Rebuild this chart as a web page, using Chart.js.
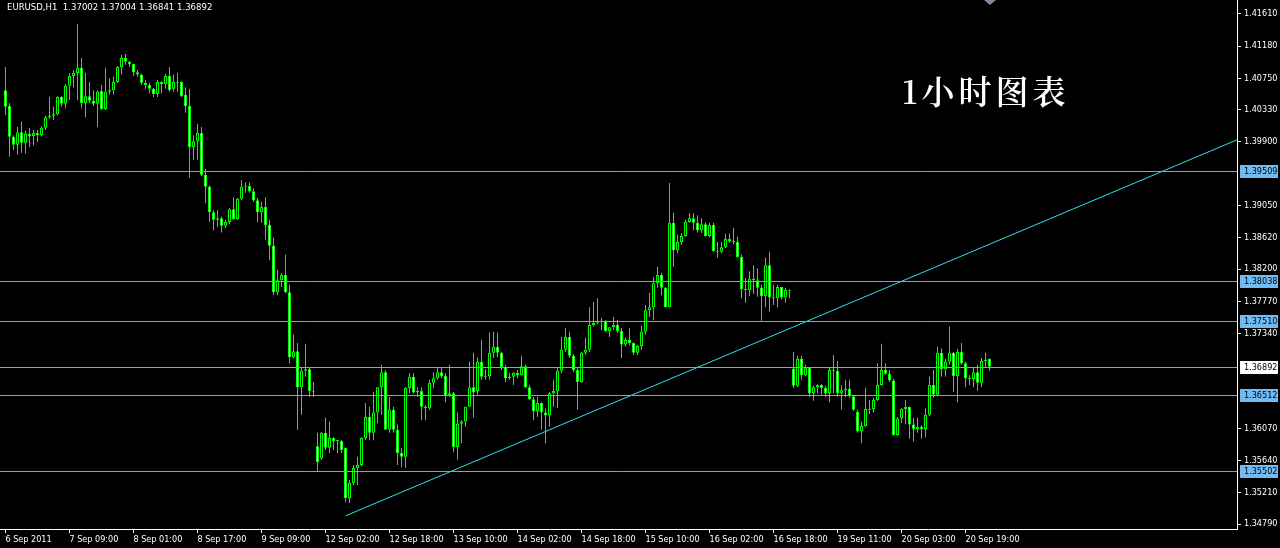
<!DOCTYPE html>
<html>
<head>
<meta charset="utf-8">
<title>EURUSD H1</title>
<script src="https://cdn.jsdelivr.net/npm/chart.js@4.4.0/dist/chart.umd.min.js"></script>
<style>
  html, body { margin: 0; padding: 0; background: #000; }
  #wrap { position: relative; width: 1280px; height: 548px; background: #000; overflow: hidden; }
  #wrap canvas { position: absolute; left: 0; top: 0; }
  .info { position: absolute; left: 7px; top: 1px; color: #fff; white-space: pre;
          font: 9.5px 'DejaVu Sans Condensed', 'Liberation Sans', sans-serif; }
  .note { position: absolute; left: 902px; top: 66px; color: #fff; font-weight: 600;
          font-size: 33px; font-family: 'Noto Serif CJK SC', 'Noto Sans CJK SC', serif; letter-spacing: 4px; }
</style>
</head>
<body>
<div id="wrap">
  <canvas id="chart" width="1280" height="548"></canvas>
  <div class="info" id="info"></div>
  <div class="note" id="note"></div>
</div>
<script>
// EURUSD H1 candles, 6 Sep 17:00 .. 21 Sep 2011
const opens = [
  1.4059,1.4038,1.3997,1.3986,1.4003,1.3989,1.4001,1.3998,1.4002,1.3999,
  1.4009,1.4023,1.4025,1.4027,1.4050,1.4041,1.4065,1.4078,1.4082,1.4089,
  1.4042,1.4051,1.4045,1.4041,1.4058,1.4034,1.4057,1.4059,1.4070,1.4090,
  1.4102,1.4097,1.4094,1.4083,1.4080,1.4069,1.4066,1.4061,1.4054,1.4070,
  1.4067,1.4078,1.4061,1.4070,1.4070,1.4053,1.4038,1.3983,1.3991,1.4002,
  1.3946,1.3930,1.3896,1.3886,1.3888,1.3878,1.3883,1.3900,1.3887,1.3914,
  1.3930,1.3931,1.3924,1.3912,1.3896,1.3903,1.3879,1.3851,1.3789,1.3805,
  1.3812,1.3789,1.3702,1.3710,1.3662,1.3684,1.3686,1.3657,1.3583,1.3567,
  1.3601,1.3581,1.3594,1.3590,1.3590,1.3581,1.3514,1.3534,1.3554,1.3558,
  1.3594,1.3622,1.3601,1.3628,1.3662,1.3682,1.3605,1.3632,1.3605,1.3574,
  1.3569,1.3661,1.3676,1.3655,1.3657,1.3636,1.3634,1.3668,1.3674,1.3682,
  1.3677,1.3651,1.3654,1.3582,1.3613,1.3616,1.3636,1.3662,1.3657,1.3696,
  1.3676,1.3677,1.3708,1.3716,1.3708,1.3689,1.3674,1.3676,1.3681,1.3678,
  1.3690,1.3662,1.3646,1.3630,1.3641,1.3628,1.3624,1.3654,1.3657,1.3684,
  1.3712,1.3729,1.3704,1.3685,1.3669,1.3708,1.3712,1.3745,1.3748,1.3749,
  1.3751,1.3737,1.3742,1.3745,1.3737,1.3719,1.3725,1.3721,1.3708,1.3717,
  1.3736,1.3765,1.3769,1.3801,1.3812,1.3795,1.3769,1.3882,1.3845,1.3856,
  1.3864,1.3883,1.3888,1.3882,1.3872,1.3880,1.3864,1.3879,1.3844,1.3843,
  1.3849,1.3860,1.3857,1.3856,1.3836,1.3793,1.3792,1.3807,1.3805,1.3795,
  1.3784,1.3825,1.3782,1.3781,1.3796,1.3782,1.3792,1.3687,1.3664,1.3700,
  1.3678,1.3688,1.3654,1.3662,1.3665,1.3661,1.3654,1.3685,1.3684,1.3654,
  1.3658,1.3660,1.3650,1.3629,1.3603,1.3610,1.3633,1.3633,1.3645,1.3665,
  1.3685,1.3680,1.3671,1.3598,1.3620,1.3633,1.3636,1.3612,1.3606,1.3609,
  1.3606,1.3625,1.3665,1.3652,1.3708,1.3686,1.3696,1.3708,1.3677,1.3709,
  1.3694,1.3674,1.3673,1.3682,1.3668,1.3697,1.37002
];
const highs = [
  1.4090,1.4042,1.3999,1.4010,1.4017,1.4005,1.4009,1.4006,1.4006,1.4011,
  1.4025,1.4050,1.4037,1.4051,1.4051,1.4067,1.4082,1.4086,1.4148,1.4102,
  1.4082,1.4070,1.4059,1.4059,1.4066,1.4089,1.4075,1.4077,1.4091,1.4106,
  1.4108,1.4098,1.4094,1.4086,1.4081,1.4073,1.4069,1.4062,1.4073,1.4071,
  1.4081,1.4090,1.4080,1.4082,1.4071,1.4063,1.4061,1.3999,1.4014,1.4010,
  1.3954,1.3932,1.3899,1.3899,1.3890,1.3886,1.3902,1.3916,1.3915,1.3939,
  1.3936,1.3936,1.3928,1.3915,1.3910,1.3916,1.3886,1.3862,1.3819,1.3815,
  1.3839,1.3799,1.3732,1.3721,1.3688,1.3720,1.3688,1.3669,1.3601,1.3602,
  1.3621,1.3616,1.3595,1.3591,1.3591,1.3581,1.3538,1.3558,1.3569,1.3595,
  1.3641,1.3636,1.3656,1.3662,1.3692,1.3685,1.3649,1.3636,1.3612,1.3581,
  1.3662,1.3681,1.3681,1.3662,1.3662,1.3638,1.3672,1.3682,1.3688,1.3688,
  1.3681,1.3692,1.3656,1.3628,1.3618,1.3636,1.3696,1.3708,1.3702,1.3725,
  1.3686,1.3735,1.3736,1.3735,1.3709,1.3692,1.3681,1.3682,1.3685,1.3704,
  1.3692,1.3665,1.3649,1.3649,1.3642,1.3634,1.3656,1.3672,1.3688,1.3729,
  1.3741,1.3736,1.3706,1.3689,1.3709,1.3728,1.3769,1.3776,1.3781,1.3755,
  1.3752,1.3742,1.3756,1.3752,1.3741,1.3728,1.3741,1.3722,1.3718,1.3744,
  1.3772,1.3788,1.3809,1.3823,1.3815,1.3796,1.3935,1.3895,1.3866,1.3868,
  1.3886,1.3895,1.3895,1.3892,1.3888,1.3883,1.3882,1.3882,1.3856,1.3856,
  1.3867,1.3867,1.3875,1.3863,1.3839,1.3808,1.3817,1.3825,1.3821,1.3799,
  1.3835,1.3843,1.3799,1.3799,1.3796,1.3795,1.3793,1.3709,1.3704,1.3704,
  1.3692,1.3689,1.3664,1.3666,1.3666,1.3664,1.3688,1.3705,1.3697,1.3665,
  1.3672,1.3672,1.3650,1.3632,1.3616,1.3661,1.3645,1.3648,1.3694,1.3720,
  1.3694,1.3685,1.3673,1.3622,1.3634,1.3645,1.3636,1.3621,1.3621,1.3611,
  1.3634,1.3676,1.3685,1.3716,1.3714,1.3700,1.3743,1.3709,1.3713,1.3721,
  1.3696,1.3678,1.3689,1.3692,1.3701,1.3708,1.37004
];
const lows = [
  1.4026,1.3970,1.3979,1.3973,1.3975,1.3974,1.3983,1.3985,1.3990,1.3997,
  1.4006,1.4021,1.4019,1.4026,1.4037,1.4035,1.4046,1.4063,1.4046,1.4035,
  1.4023,1.4042,1.4038,1.4010,1.4033,1.4033,1.4053,1.4053,1.4069,1.4080,
  1.4093,1.4090,1.4078,1.4077,1.4066,1.4061,1.4055,1.4050,1.4050,1.4055,
  1.4061,1.4057,1.4057,1.4057,1.4050,1.4029,1.3942,1.3966,1.3966,1.3944,
  1.3908,1.3883,1.3872,1.3876,1.3869,1.3875,1.3880,1.3886,1.3886,1.3912,
  1.3922,1.3922,1.3910,1.3883,1.3882,1.3859,1.3832,1.3785,1.3785,1.3796,
  1.3788,1.3694,1.3701,1.3605,1.3625,1.3676,1.3649,1.3649,1.3549,1.3565,
  1.3578,1.3574,1.3578,1.3574,1.3574,1.3508,1.3507,1.3531,1.3531,1.3556,
  1.3591,1.3591,1.3591,1.3614,1.3625,1.3605,1.3601,1.3601,1.3558,1.3555,
  1.3554,1.3654,1.3654,1.3649,1.3618,1.3618,1.3632,1.3661,1.3672,1.3674,
  1.3642,1.3649,1.3575,1.3565,1.3587,1.3609,1.3636,1.3621,1.3652,1.3672,
  1.3672,1.3672,1.3701,1.3702,1.3685,1.3669,1.3672,1.3665,1.3674,1.3678,
  1.3661,1.3645,1.3618,1.3622,1.3605,1.3587,1.3609,1.3636,1.3634,1.3681,
  1.3709,1.3701,1.3682,1.3632,1.3668,1.3705,1.3709,1.3743,1.3746,1.3738,
  1.3736,1.3729,1.3738,1.3734,1.3701,1.3716,1.3718,1.3705,1.3705,1.3712,
  1.3732,1.3756,1.3752,1.3795,1.3785,1.3769,1.3769,1.3823,1.3841,1.3852,
  1.3863,1.3882,1.3872,1.3869,1.3868,1.3863,1.3862,1.3843,1.3835,1.3841,
  1.3848,1.3855,1.3853,1.3835,1.3781,1.3775,1.3784,1.3787,1.3783,1.3751,
  1.3769,1.3763,1.3772,1.3769,1.3779,1.3775,1.3781,1.3661,1.3662,1.3672,
  1.3677,1.3649,1.3644,1.3654,1.3652,1.3649,1.3642,1.3654,1.3649,1.3632,
  1.3649,1.3648,1.3630,1.3601,1.3587,1.3609,1.3626,1.3628,1.3644,1.3664,
  1.3679,1.3669,1.3597,1.3597,1.3614,1.3612,1.3593,1.3589,1.3601,1.3593,
  1.3595,1.3623,1.3648,1.3650,1.3676,1.3676,1.3692,1.3656,1.3642,1.3692,
  1.3662,1.3665,1.3662,1.3657,1.3662,1.3689,1.36841
];
const closes = [
  1.4037,1.3997,1.3986,1.4003,1.3989,1.4001,1.3998,1.4002,1.3999,1.4009,
  1.4023,1.4025,1.4027,1.4050,1.4041,1.4065,1.4078,1.4082,1.4089,1.4042,
  1.4051,1.4045,1.4041,1.4057,1.4034,1.4057,1.4059,1.4070,1.4090,1.4102,
  1.4097,1.4094,1.4083,1.4080,1.4069,1.4066,1.4061,1.4054,1.4070,1.4067,
  1.4078,1.4059,1.4070,1.4069,1.4051,1.4038,1.3983,1.3991,1.4002,1.3946,
  1.3930,1.3896,1.3886,1.3888,1.3878,1.3883,1.3900,1.3887,1.3914,1.3930,
  1.3931,1.3924,1.3912,1.3896,1.3903,1.3879,1.3851,1.3789,1.3805,1.3812,
  1.3789,1.3702,1.3710,1.3662,1.3684,1.3686,1.3657,1.3656,1.3562,1.3601,
  1.3581,1.3594,1.3590,1.3591,1.3578,1.3514,1.3534,1.3554,1.3558,1.3594,
  1.3622,1.3601,1.3628,1.3662,1.3682,1.3605,1.3632,1.3605,1.3574,1.3569,
  1.3661,1.3676,1.3655,1.3657,1.3636,1.3634,1.3668,1.3674,1.3682,1.3677,
  1.3651,1.3654,1.3582,1.3613,1.3616,1.3636,1.3662,1.3655,1.3696,1.3676,
  1.3677,1.3708,1.3716,1.3708,1.3689,1.3674,1.3676,1.3681,1.3678,1.3690,
  1.3662,1.3646,1.3630,1.3641,1.3628,1.3624,1.3654,1.3657,1.3684,1.3712,
  1.3729,1.3704,1.3685,1.3669,1.3708,1.3712,1.3745,1.3748,1.3749,1.3751,
  1.3737,1.3742,1.3745,1.3737,1.3719,1.3725,1.3721,1.3708,1.3717,1.3736,
  1.3765,1.3769,1.3801,1.3812,1.3795,1.3769,1.3882,1.3845,1.3856,1.3864,
  1.3883,1.3888,1.3882,1.3872,1.3880,1.3864,1.3879,1.3844,1.3843,1.3849,
  1.3860,1.3857,1.3856,1.3836,1.3793,1.3792,1.3807,1.3805,1.3795,1.3784,
  1.3825,1.3782,1.3781,1.3796,1.3782,1.3792,1.3791,1.3664,1.3700,1.3678,
  1.3688,1.3654,1.3662,1.3665,1.3661,1.3654,1.3685,1.3684,1.3654,1.3658,
  1.3660,1.3650,1.3632,1.3603,1.3610,1.3633,1.3632,1.3645,1.3665,1.3685,
  1.3680,1.3671,1.3598,1.3620,1.3633,1.3636,1.3612,1.3606,1.3609,1.3606,
  1.3625,1.3665,1.3652,1.3708,1.3686,1.3696,1.3708,1.3677,1.3709,1.3694,
  1.3674,1.3673,1.3682,1.3668,1.3697,1.3698,1.36892
];

// time axis: one label every 16 bars
const timeLabelBars = [0, 16, 32, 48, 64, 80, 96, 112, 128, 144, 160, 176, 192, 208, 224, 240];
const timeLabels = ['6 Sep 2011', '7 Sep 09:00', '8 Sep 01:00', '8 Sep 17:00', '9 Sep 09:00',
  '12 Sep 02:00', '12 Sep 18:00', '13 Sep 10:00', '14 Sep 02:00', '14 Sep 18:00',
  '15 Sep 10:00', '16 Sep 02:00', '16 Sep 18:00', '19 Sep 11:00', '20 Sep 03:00', '20 Sep 19:00'];

// price axis
const priceTicks = [1.41610, 1.41180, 1.40750, 1.40330, 1.39900, 1.39050, 1.38620, 1.38200,
  1.37770, 1.37340, 1.36070, 1.35640, 1.35210, 1.34790];
const priceMin = 1.34724;
const priceMax = 1.41797;

// horizontal levels, bid line and trend line
const levelPrices = [1.39509, 1.38038, 1.37510, 1.36512, 1.35502];
const bidPrice = 1.36892;
const trendBars = [85, 308];
const trendPrices = [1.3490, 1.3993];

const infoText = 'EURUSD,H1  1.37002 1.37004 1.36841 1.36892';
const noteText = '1小时图表';

const candleColor = '#00ff00';
const levelColor = '#5cb0f2';
const tagColor = '#70bcf2';
const bidColor = '#a0a0a0';
const trendColor = '#30e0f0';
const axisFamily = "'DejaVu Sans Condensed', 'Liberation Sans', sans-serif";
const axisFont = { family: axisFamily, size: 9 };

document.getElementById('info').textContent = infoText;
document.getElementById('note').textContent = noteText;

const barIdx = opens.map((o, i) => i);
const wickData = barIdx.map(i => ({ x: i, y: [lows[i], highs[i]] }));
const bodyData = barIdx.map(i => ({ x: i, y: [Math.min(opens[i], closes[i]), Math.max(opens[i], closes[i])] }));
// bull candles hollow (black), bear candles white
const bodyFill = barIdx.map(i => closes[i] >= opens[i] ? '#000000' : '#ffffff');

// 4 px per bar, chart area is 1237 px wide
const xMin = -1.375;
const xMax = xMin + 1237 / 4;

/**
 * Draws the horizontal price levels with their labels on the price axis.
 */
const levelsPlugin = {
    id: 'levels',
    afterDatasetsDraw(chart) {
        const { ctx, chartArea: a, scales: { y } } = chart;
        ctx.save();
        ctx.lineWidth = 1;
        const hline = (p, color) => {
            const py = Math.round(y.getPixelForValue(p)) + 0.5;
            ctx.strokeStyle = color;
            ctx.beginPath();
            ctx.moveTo(a.left, py);
            ctx.lineTo(a.right, py);
            ctx.stroke();
        };
        levelPrices.forEach(p => hline(p, levelColor));
        hline(bidPrice, bidColor);
        ctx.restore();
    },
    afterDraw(chart) {
        const { ctx, chartArea: a, scales: { y } } = chart;
        ctx.save();
        ctx.font = '9px ' + axisFamily;
        ctx.textBaseline = 'middle';
        const tag = (p, bg, fg) => {
            const py = Math.round(y.getPixelForValue(p));
            ctx.fillStyle = bg;
            ctx.fillRect(a.right + 3, py - 6, 38, 13);
            ctx.fillStyle = fg;
            ctx.fillText(p.toFixed(5), a.right + 7, py + 1);
        };
        levelPrices.forEach(p => tag(p, tagColor, '#000000'));
        tag(bidPrice, '#ffffff', '#000000');
        // chart shift marker
        ctx.fillStyle = '#7d8ca0';
        ctx.beginPath();
        ctx.moveTo(984, 0); ctx.lineTo(996, 0); ctx.lineTo(990, 5);
        ctx.closePath();
        ctx.fill();
        ctx.restore();
    }
};

new Chart(document.getElementById('chart'), {
    type: 'bar',
    data: {
        datasets: [
            {
                type: 'line',
                data: trendBars.map((b, k) => ({ x: b, y: trendPrices[k] })),
                borderColor: trendColor,
                borderWidth: 1,
                pointRadius: 0,
                tension: 0,
                fill: false
            },
            {
                data: bodyData,
                backgroundColor: bodyFill,
                borderColor: candleColor,
                borderWidth: 1,
                borderSkipped: false,
                inflateAmount: 0,
                barThickness: 3,
                minBarLength: 1,
                grouped: false
            },
            {
                data: wickData,
                backgroundColor: candleColor,
                borderWidth: 0,
                inflateAmount: 0,
                barThickness: 1,
                minBarLength: 1,
                grouped: false
            }
        ]
    },
    options: {
        responsive: false,
        animation: false,
        events: [],
        layout: { padding: 0 },
        plugins: { legend: { display: false }, tooltip: { enabled: false } },
        scales: {
            x: {
                type: 'linear',
                position: 'bottom',
                min: xMin,
                max: xMax,
                offset: false,
                afterBuildTicks: s => { s.ticks = timeLabelBars.map(v => ({ value: v })); },
                afterFit: s => { s.height = 19; s.paddingLeft = 0; s.paddingRight = 0; },
                ticks: {
                    autoSkip: false,
                    maxRotation: 0,
                    minRotation: 0,
                    align: 'start',
                    padding: 1,
                    color: '#ffffff',
                    font: axisFont,
                    callback: v => timeLabels[timeLabelBars.indexOf(v)] || ''
                },
                grid: { drawOnChartArea: false, drawTicks: true, tickLength: 4, color: '#ffffff', offset: false },
                border: { display: true, color: '#ffffff' }
            },
            y: {
                position: 'right',
                min: priceMin,
                max: priceMax,
                beginAtZero: false,
                afterBuildTicks: s => { s.ticks = priceTicks.map(v => ({ value: v })); },
                afterFit: s => { s.width = 43; s.paddingTop = 0; s.paddingBottom = 0; },
                ticks: {
                    padding: 3,
                    color: '#ffffff',
                    font: axisFont,
                    callback: v => v.toFixed(5)
                },
                grid: { drawOnChartArea: false, drawTicks: true, tickLength: 4, color: '#ffffff' },
                border: { display: true, color: '#ffffff' }
            }
        }
    },
    plugins: [levelsPlugin]
});
</script>
</body>
</html>
